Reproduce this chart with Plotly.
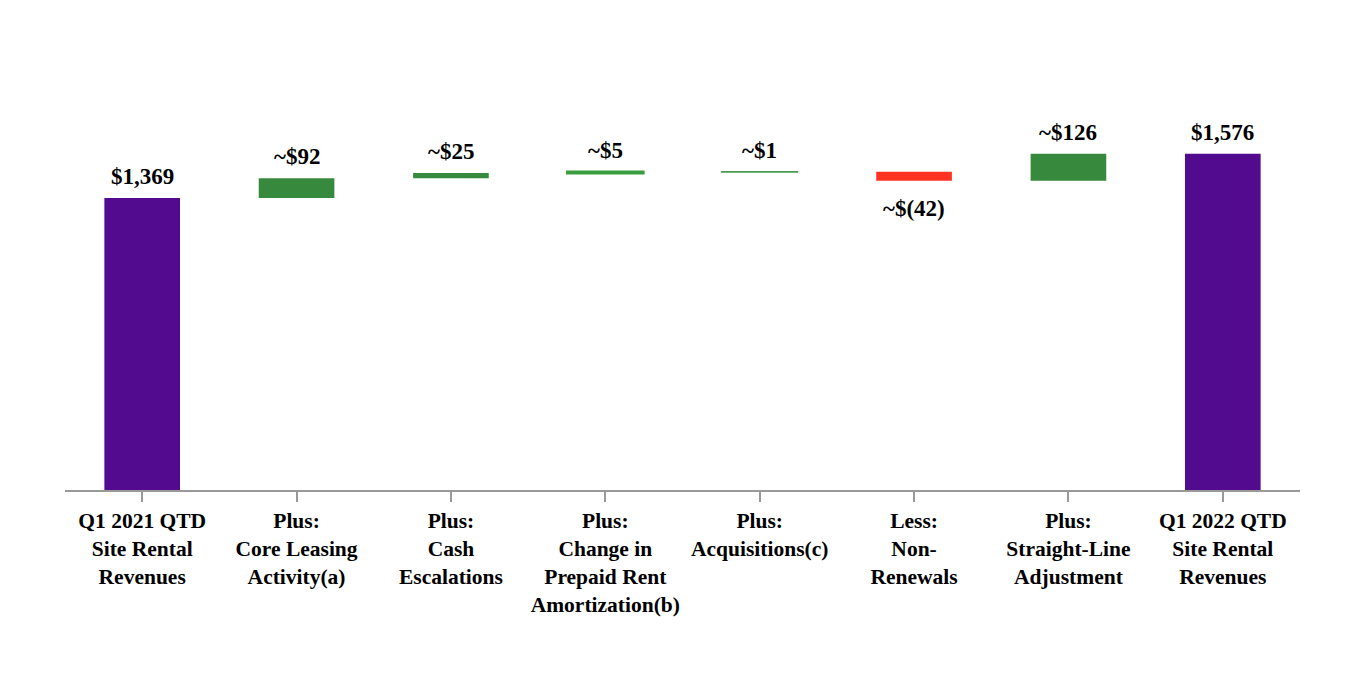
import plotly.graph_objects as go

categories = [
    "Q1 2021 QTD<br>Site Rental<br>Revenues",
    "Plus:<br>Core Leasing<br>Activity(a)",
    "Plus:<br>Cash<br>Escalations",
    "Plus:<br>Change in<br>Prepaid Rent<br>Amortization(b)",
    "Plus:<br>Acquisitions(c)",
    "Less:<br>Non-<br>Renewals",
    "Plus:<br>Straight-Line<br>Adjustment",
    "Q1 2022 QTD<br>Site Rental<br>Revenues",
]
measures = ["absolute", "relative", "relative", "relative", "relative", "relative", "relative", "total"]
values = [1369, 92, 25, 5, 1, -42, 126, 1576]
labels = ["$1,369", "~$92", "~$25", "~$5", "~$1", "~$(42)", "~$126", "$1,576"]
colors = ["#520a8e", "#378a3d", "#378a3d", "#3a9e3f", "#4a9a4f", "#ff3322", "#378a3d", "#520a8e"]
outline = [0, 0, 0, 3, 1.5, 0, 0, 0]

# compute bases from running total
bases, heights = [], []
running = 0
for m, v in zip(measures, values):
    if m in ("absolute", "total"):
        bases.append(0)
        heights.append(v)
        running = v
    else:
        bases.append(running)
        heights.append(v)
        running += v

fig = go.Figure(go.Bar(
    x=categories,
    y=heights,
    base=bases,
    marker=dict(color=colors, line=dict(width=outline, color=colors)),
    cliponaxis=False,
    hoverinfo="skip",
))

for cat, b, h, lab in zip(categories, bases, heights, labels):
    if h >= 0:
        fig.add_annotation(x=cat, y=b + h, text=lab, showarrow=False,
                           yanchor="bottom", yshift=7)
    else:
        fig.add_annotation(x=cat, y=b + h, text=lab, showarrow=False,
                           yanchor="top", yshift=-13)

fig.update_annotations(font=dict(family="Liberation Serif", size=23, color="#000000", weight="bold"))

fig.update_layout(
    width=1364, height=680,
    paper_bgcolor="white", plot_bgcolor="white",
    margin=dict(l=57, r=72, t=72, b=198),
    bargap=0.51,
    showlegend=False,
    font=dict(family="Liberation Serif", size=21.5, color="#000000"),
)
fig.update_xaxes(
    showline=True, linecolor="#999999", linewidth=2,
    ticks="outside", ticklen=10, tickwidth=2, tickcolor="#999999",
    tickfont=dict(family="Liberation Serif", size=21.5, color="#000000", weight="bold"),
    showgrid=False,
)
fig.update_yaxes(
    range=[0, 1922], visible=False, showgrid=False, zeroline=False,
)

fig.write_html("out.html")
